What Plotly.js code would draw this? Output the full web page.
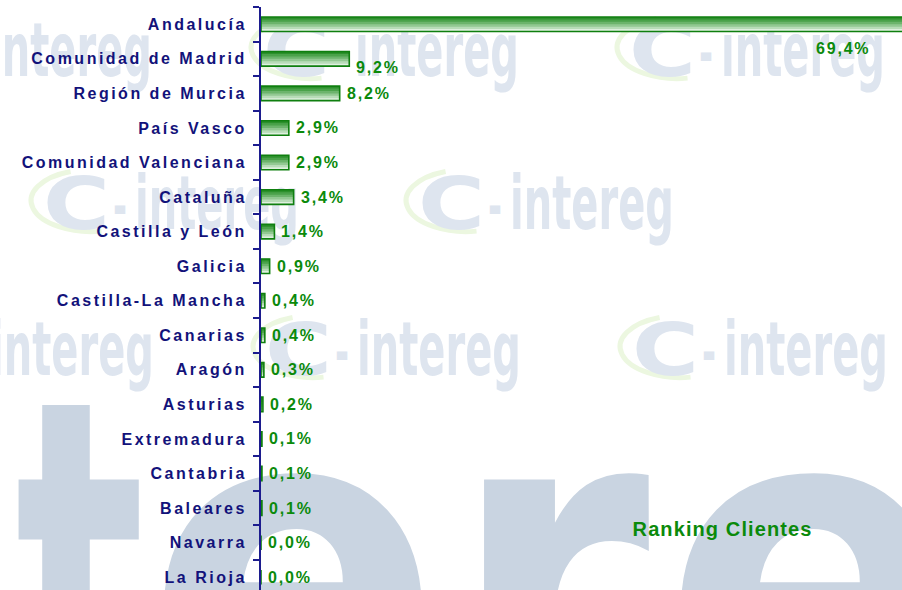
<!DOCTYPE html>
<html>
<head>
<meta charset="utf-8">
<script src="https://cdn.plot.ly/plotly-3.0.1.min.js"></script>
<style>
  html, body { margin: 0; padding: 0; background: #fff; }
  #wrap { position: relative; width: 902px; height: 590px; overflow: hidden; }
  #wm, #chart1 { position: absolute; left: 0; top: 0; width: 902px; height: 590px; }
  .ytick text { letter-spacing: 2.5px; }
  .annotation-text { letter-spacing: 1.8px; }
  .annotation[data-index="0"] .annotation-text { letter-spacing: 1.1px; }
</style>
</head>
<body>
<div id="wrap">
  <svg id="wm" width="902" height="590"></svg>
  <div id="chart1"></div>
</div>
<script>
// ranking de clientes por comunidad (%)
var regiones = ['Andalucía', 'Comunidad de Madrid', 'Región de Murcia', 'País Vasco',
  'Comunidad Valenciana', 'Cataluña', 'Castilla y León', 'Galicia', 'Castilla-La Mancha',
  'Canarias', 'Aragón', 'Asturias', 'Extremadura', 'Cantabria', 'Baleares', 'Navarra', 'La Rioja'];
var porcentaje = [69.4, 9.2, 8.2, 2.9, 2.9, 3.4, 1.4, 0.9, 0.4, 0.4, 0.3, 0.2, 0.1, 0.1, 0.1, 0.0, 0.0];
var titulo = 'Ranking Clientes';

// marca de agua de fondo (logos intereg)
var svgNS = 'http://www.w3.org/2000/svg';
var wm = document.getElementById('wm');
var fam = "'DejaVu Sans', sans-serif";
var gris = '#dee5ef';

function txt(x, y, s, size, weight, color, len) {
  var t = document.createElementNS(svgNS, 'text');
  t.setAttribute('x', x);
  t.setAttribute('y', y);
  t.setAttribute('font-family', fam);
  t.setAttribute('font-size', size);
  t.setAttribute('font-weight', weight);
  t.setAttribute('fill', color);
  if (len) {
    t.setAttribute('textLength', len);
    t.setAttribute('lengthAdjust', 'spacingAndGlyphs');
  }
  t.textContent = s;
  wm.appendChild(t);
}

function arco(x, y) {
  var cx = x + 38, cy = y - 27, rx = 60, ry = 31;
  var a0 = -100 * Math.PI / 180, a1 = 70 * Math.PI / 180;
  var p = document.createElementNS(svgNS, 'path');
  p.setAttribute('d', 'M ' + (cx + rx * Math.cos(a0)) + ' ' + (cy + ry * Math.sin(a0)) +
    ' A ' + rx + ' ' + ry + ' 0 0 0 ' + (cx + rx * Math.cos(a1)) + ' ' + (cy + ry * Math.sin(a1)));
  p.setAttribute('fill', 'none');
  p.setAttribute('stroke', '#ecf7e0');
  p.setAttribute('stroke-width', 5);
  wm.appendChild(p);
}

function logo(x, y) {
  arco(x, y);
  txt(x, y, 'C', 73, 'bold', gris, 67);
  txt(x + 70, y - 2, '-', 60, 'bold', gris, 14);
  txt(x + 92, y, 'intereg', 75, 'bold', gris, 164);
}

[[-104, 76], [263, 76], [629, 76],
 [43, 229], [418, 229],
 [-102, 375], [265, 375], [632, 375]].forEach(function (p) { logo(p[0], p[1]); });

// gran marca inferior, letra a letra
var azul = '#c9d4e1';
txt(15, 742, 't', 480, 'bold', azul, 130);
txt(145, 742, 'e', 480, 'bold', azul, 298);
txt(450, 742, 'r', 480, 'bold', azul, 200);
txt(662, 742, 'e', 480, 'bold', azul, 298);

// barras con degradado (capas superpuestas, de claro a oscuro)
var verde = '#0f7f0f';
function capa(color, width, line) {
  return {
    type: 'bar',
    orientation: 'h',
    x: porcentaje,
    y: regiones,
    width: width,
    offset: -0.21,
    marker: {color: color, line: {color: line || 'rgba(0,0,0,0)', width: line ? 1.6 : 0}},
    hoverinfo: 'skip'
  };
}

var data = [
  capa('#dff0df', 0.42),
  capa('#b8dcb8', 0.35),
  capa('#92c892', 0.28),
  capa('#6cb46c', 0.21),
  capa('#4aa24a', 0.14),
  capa('#2c902c', 0.07),
  capa('rgba(0,0,0,0)', 0.42, verde)
];

function fmt(v) { return v.toFixed(1).replace('.', ',') + '%'; }

var fuente = 'Arial, "Liberation Sans", sans-serif';
var fontEtiqueta = {family: fuente, size: 16, color: '#0b8a0b', weight: 700};

var anotaciones = [{
  xref: 'paper', yref: 'paper', x: 0.72, y: 0.105,
  xanchor: 'center', yanchor: 'middle',
  text: titulo, showarrow: false,
  font: {family: fuente, size: 20, color: '#0b8a0b', weight: 700}
}];

for (let i = 0; i < regiones.length; i++) {
  if (i === 0) {
    anotaciones.push({
      xref: 'paper', yref: 'y', x: 1, y: regiones[i],
      xanchor: 'right', yanchor: 'middle', xshift: -30, yshift: -24,
      text: fmt(porcentaje[i]), showarrow: false, font: fontEtiqueta
    });
  } else {
    anotaciones.push({
      xref: 'x', yref: 'y', x: porcentaje[i], y: regiones[i],
      xanchor: 'left', yanchor: 'middle', xshift: 5, yshift: i === 1 ? -9 : 0,
      text: fmt(porcentaje[i]), showarrow: false, font: fontEtiqueta
    });
  }
}

var layout = {
  width: 902,
  height: 590,
  margin: {l: 261, r: 0, t: 7, b: 0, pad: 0},
  paper_bgcolor: 'rgba(0,0,0,0)',
  plot_bgcolor: 'rgba(0,0,0,0)',
  barmode: 'overlay',
  showlegend: false,
  xaxis: {range: [0, 66.8], visible: false, showgrid: false, zeroline: false},
  yaxis: {
    type: 'category',
    range: [16.37, -0.5],
    showline: true,
    linecolor: '#1c1c8e',
    linewidth: 2,
    ticks: 'outside',
    tickson: 'boundaries',
    ticklen: 6,
    tickwidth: 2,
    tickcolor: '#1c1c8e',
    ticklabelstandoff: 9,
    showgrid: false,
    zeroline: false,
    tickfont: {family: fuente, size: 16, color: '#12127a', weight: 700}
  },
  annotations: anotaciones
};

var config = {staticPlot: true, displayModeBar: false};

Plotly.newPlot('chart1', data, layout, config);
</script>
</body>
</html>
